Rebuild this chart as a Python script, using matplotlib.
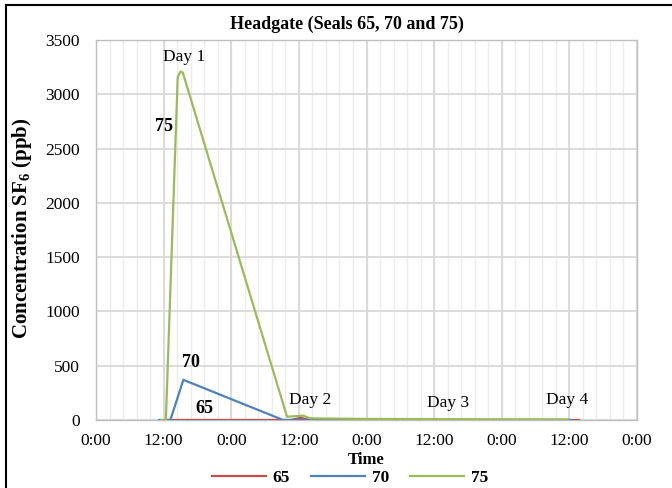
import matplotlib
matplotlib.use("Agg")
import matplotlib.pyplot as plt
from matplotlib.lines import Line2D
import numpy as np

# time in hours from the first 0:00 on the axis
t65 = [12.8, 20.0, 34.5, 36.3, 38.0, 48.0, 60.0, 72.0, 85.7]
v65 = [0, 0, 0, 20, 0, 0, 0, 0, 0]

t70 = [11.2, 13.2, 15.5, 33.2, 36.5, 48.0, 60.0, 72.0, 84.3]
v70 = [0, 0, 370, 0, 0, 0, 0, 0, 0]

t75 = [11.6, 12.4, 14.5, 15.0, 15.4, 33.9, 36.8, 38.0, 48.0, 60.0, 72.0, 83.7]
v75 = [0, 0, 3160, 3210, 3200, 30, 40, 15, 10, 8, 6, 5]

series_names = ["65", "70", "75"]
colors = ["#c0504d", "#4f81bd", "#9bbb59"]

xtick_labels = ["0:00", "12:00", "0:00", "12:00", "0:00", "12:00", "0:00", "12:00", "0:00"]
day_labels = ["Day 1", "Day 2", "Day 3", "Day 4"]
day_pos = [(15.6, 3343), (38.0, 184), (62.4, 157), (83.6, 184)]

serif = ["Liberation Serif", "DejaVu Serif"]
plt.rcParams["font.family"] = serif
plt.rcParams["mathtext.fontset"] = "custom"
plt.rcParams["mathtext.rm"] = "Liberation Serif"
plt.rcParams["mathtext.bf"] = "Liberation Serif:bold"

fig = plt.figure(figsize=(6.72, 4.88), dpi=100)
ax = fig.add_axes([96/672, 1-420/488, (637-96)/672, (420-40)/488])

# grid
for x in np.arange(0, 96.01, 2.4):
    ax.axvline(x, color="#ececec", lw=1.0, zorder=0)
for x in np.arange(0, 96.01, 12):
    ax.axvline(x, color="#d9d9d9", lw=1.3, zorder=0.5)
for y in np.arange(0, 3501, 500):
    ax.axhline(y, color="#d9d9d9", lw=1.3, zorder=0.5)

ax.plot(t65, v65, color=colors[0], lw=1.6, zorder=3)
ax.plot(t70, v70, color=colors[1], lw=1.6, zorder=3)
ax.plot(t75, v75, color=colors[2], lw=1.6, zorder=4)

ax.set_xlim(0, 96)
ax.set_ylim(0, 3500)
ax.set_xticks(np.arange(0, 96.01, 12))
ax.set_xticklabels(xtick_labels, fontsize=12.5)
ax.set_yticks(np.arange(0, 3501, 500))
ax.set_yticklabels([str(v) for v in range(0, 3501, 500)], fontsize=12.5)
ax.tick_params(axis="x", length=0, pad=9.5)
ax.tick_params(axis="y", length=0, pad=11.5)
for s in ax.spines.values():
    s.set_color("#bfbfbf")
    s.set_linewidth(1.0)

fig.text(347/672, 1-24/488, "Headgate (Seals 65, 70 and 75)", fontsize=13,
         fontweight="bold", ha="center", va="center")
ax.set_xlabel("Time", fontsize=12, fontweight="bold", labelpad=2)
fig.text(22/672, 1-228/488, "Concentration SF$_\\mathbf{6}$ (ppb)", fontsize=15,
         fontweight="bold", rotation=90, ha="center", va="center")

for lab, (x, y) in zip(day_labels, day_pos):
    ax.text(x, y, lab, fontsize=12.5, ha="center", va="center")

ax.text(12.1, 2699, "75", fontsize=13, fontweight="bold", ha="center", va="center")
ax.text(16.8, 534, "70", fontsize=13, fontweight="bold", ha="center", va="center")
ax.text(19.2, 110, "65", fontsize=13, fontweight="bold", ha="center", va="center")

handles = [Line2D([0], [0], color=c, lw=1.6) for c in colors]
fig.legend(handles, series_names, loc="center", bbox_to_anchor=(350/672, 1-478/488),
           ncol=3, frameon=False, prop={"family": serif, "weight": "bold", "size": 12.5},
           handlelength=3.1, columnspacing=1.2, handletextpad=0.4)

# figure border (top and left)
fig.add_artist(Line2D([6/672, 6/672], [0, 1-5/488], color="black", lw=1.5, transform=fig.transFigure))
fig.add_artist(Line2D([6/672, 1], [1-5/488, 1-5/488], color="black", lw=1.5, transform=fig.transFigure))

fig.savefig("out.png", dpi=100)
